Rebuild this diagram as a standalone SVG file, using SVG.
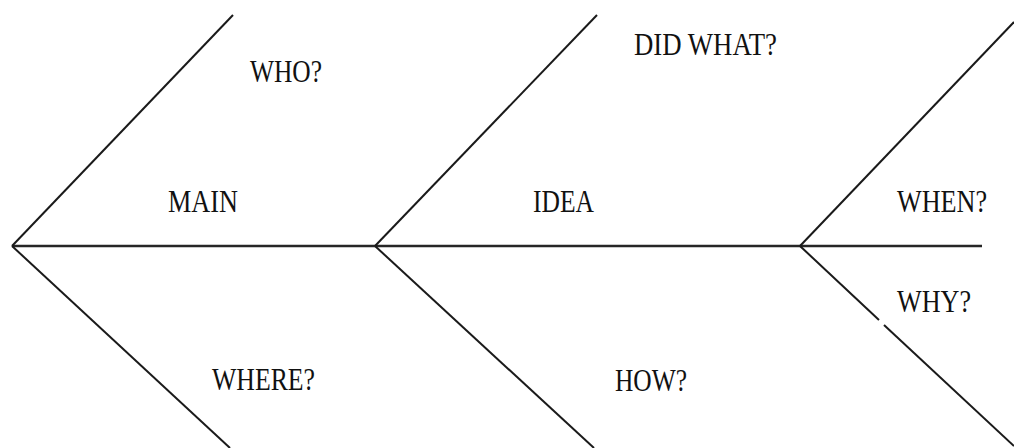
<svg xmlns="http://www.w3.org/2000/svg" width="1014" height="448" viewBox="0 0 1014 448">
<style>
.bone{stroke:#1a1a1a;stroke-width:2;fill:none;stroke-linecap:butt}
.spine{stroke:#262626;stroke-width:2.6;fill:none}
.lbl{font-family:"Liberation Serif","Times New Roman",serif;font-size:32px;fill:#111}
</style>
<rect width="1014" height="448" fill="#fff"/>
<g id="connectors">
<line class="spine" x1="12" y1="246" x2="982" y2="246"/>
<line class="bone" x1="12" y1="246" x2="233" y2="15"/>
<line class="bone" x1="12" y1="246" x2="230" y2="448"/>
<line class="bone" x1="375" y1="246" x2="597" y2="15"/>
<line class="bone" x1="375" y1="246" x2="594" y2="448"/>
<line class="bone" x1="800" y1="246" x2="1014" y2="22"/>
<line class="bone" x1="800" y1="246" x2="879" y2="320"/>
<line class="bone" x1="884" y1="325" x2="1014" y2="446"/>
</g>
<g id="who"><text class="lbl" x="250" y="82" textLength="72" lengthAdjust="spacingAndGlyphs">WHO?</text></g>
<g id="didwhat"><text class="lbl" x="634" y="55" textLength="143" lengthAdjust="spacingAndGlyphs">DID WHAT?</text></g>
<g id="main"><text class="lbl" x="168" y="212" textLength="70" lengthAdjust="spacingAndGlyphs">MAIN</text></g>
<g id="idea"><text class="lbl" x="533" y="212" textLength="61" lengthAdjust="spacingAndGlyphs">IDEA</text></g>
<g id="when"><text class="lbl" x="897" y="212" textLength="90" lengthAdjust="spacingAndGlyphs">WHEN?</text></g>
<g id="why"><text class="lbl" x="897" y="312" textLength="74" lengthAdjust="spacingAndGlyphs">WHY?</text></g>
<g id="where"><text class="lbl" x="212" y="390" textLength="103" lengthAdjust="spacingAndGlyphs">WHERE?</text></g>
<g id="how"><text class="lbl" x="615" y="391" textLength="72" lengthAdjust="spacingAndGlyphs">HOW?</text></g>
</svg>
